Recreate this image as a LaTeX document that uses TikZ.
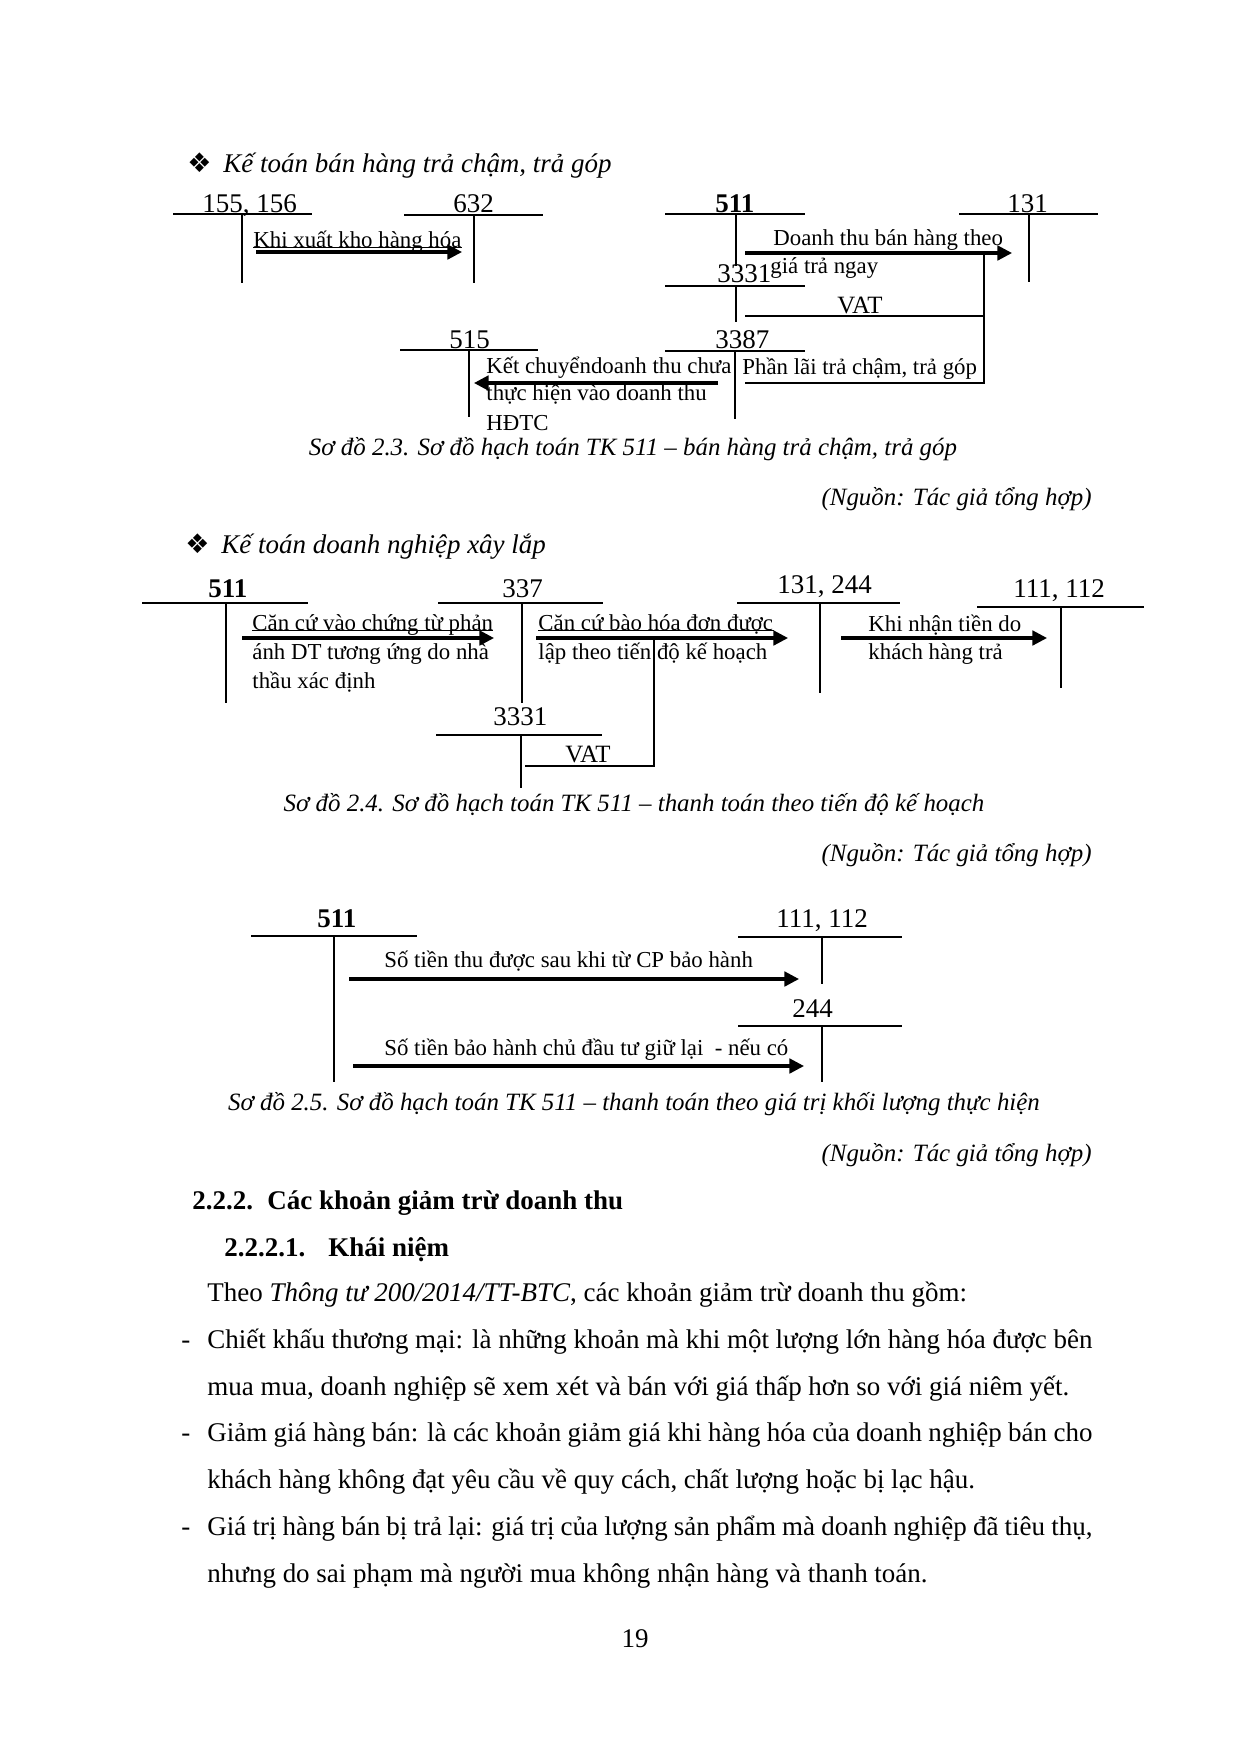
\documentclass[tikz,border=0pt]{standalone}
\usepackage{fontspec}
\setmainfont{Liberation Serif}
\newfontfamily\dejavu{DejaVu Sans}
\usepackage{tikz}
\usetikzlibrary{arrows.meta,positioning,calc}
\newlength{\linew}
\setlength{\linew}{5.9in}

\begin{document}
\begin{tikzpicture}[x={(0.169333mm,0)}, y={(0,-0.169333mm)},
    tline/.style={line width=0.6pt},
    arr/.style={line width=1.5pt, -{Triangle[length=7pt,width=7pt]}},
    lbl/.style={inner sep=0pt, anchor=base west, font=\fontsize{13}{15}\selectfont},
    blbl/.style={lbl, font=\fontsize{13}{15}\selectfont\bfseries},
    txt/.style={inner sep=0pt, anchor=base west, font=\fontsize{11}{13}\selectfont},
    stxt/.style={txt, font=\fontsize{11}{13}\selectfont},
    captxt/.style={inner sep=0pt, anchor=base, font=\fontsize{12}{14}\selectfont\itshape},
    srctxt/.style={captxt, anchor=base east},
    body/.style={inner sep=0pt, anchor=base west, font=\fontsize{13}{15}\selectfont}]
  \fill[white] (0,0) rectangle (1240,1754);
  \useasboundingbox (0,0) rectangle (1240,1754);

  % --- headings
  \node[body] (h1d) at (187,172) {\dejavu ❖};
  \node[body, font=\fontsize{13}{15}\selectfont\itshape] (h1) at (223,172) {Kế toán bán hàng trả chậm, trả góp};
  \node[body] (h2d) at (185,553) {\dejavu ❖};
  \node[body, font=\fontsize{13}{15}\selectfont\itshape] (h2) at (221,553) {Kế toán doanh nghiệp xây lắp};

  % --- T accounts: left/right/top of bar, x of stem, bottom of stem
  \foreach \l/\r/\t/\s/\b in {173/312/214/242/283, 404/543/215/474/283,
      665/805/214/736/266, 959/1098/214/1029/282, 665/805/286/736/322,
      665/805/351/735/419, 400/538/350/469/417,
      142/308/603/226/703, 438/603/603/522/703, 436/602/735/521/788,
      737/900/603/820/693, 977/1144/607/1061/688,
      251/417/936/334/1082, 738/902/937/822/984, 738/902/1026/822/1082}{
    \draw[tline] (\l,\t) -- (\r,\t);
    \draw[tline] (\s,\t) -- (\s,\b);}

  % --- So do 2.3
  \node[lbl] (t155) at (202,212) {155, 156};
  \node[lbl] (t632) at (453,212) {632};
  \node[blbl] (t511) at (715,212) {511};
  \node[lbl] (t131) at (1007,212) {131};
  \node[lbl] (t3331) at (717,282) {3331};
  \node[lbl] (t3387) at (715,348) {3387};
  \node[lbl] (t515) at (449,348) {515};

  \node[txt] (xuat) at (253,247) {Khi xuất kho hàng hóa};
  \draw[tline] ([yshift=-0.3pt]xuat.base west) -- ([yshift=-0.3pt]xuat.base east);
  \coordinate (a1s) at (256,252);
  \coordinate (a1e) at (462,252);
  \draw[arr] (a1s) -- (a1e);

  \node[txt] (dt1) at (773,245) {Doanh thu bán hàng theo};
  \node[stxt] (dt2) at (770,273) {giá trả ngay};
  \coordinate (a2s) at (745,253);
  \coordinate (a2e) at (1012,253);
  \draw[arr] (a2s) -- (a2e);

  \coordinate (vr) at (984,253);
  \coordinate (vatA) at (745,316);
  \coordinate (laiA) at (745,383);
  \node[txt, anchor=base, font=\fontsize{12}{14}\selectfont] (vat1) at (860,313) {VAT};
  \node[txt] (lai) at (742,374) {Phần lãi trả chậm, trả góp};
  \draw[tline] (vr) |- (laiA);
  \draw[tline] (vatA) -- (vatA -| vr);

  \node[txt] (kc1) at (486,373) {Kết chuyểndoanh thu chưa};
  \node[txt] (kc2) at (486,400) {thực hiện vào doanh thu};
  \node[txt] (kc3) at (486,430) {HĐTC};
  \coordinate (a3s) at (718,383);
  \coordinate (a3e) at (474,383);
  \draw[arr] (a3s) -- (a3e);

  \node[captxt] (cap1) at (633,455) {Sơ đồ 2.3. Sơ đồ hạch toán TK 511 -- bán hàng trả chậm, trả góp};
  \node[srctxt] (src1) at (1092,505) {(Nguồn: Tác giả tổng hợp)};

  % --- So do 2.4
  \node[blbl] (u511) at (208,597) {511};
  \node[lbl] (u337) at (502,597) {337};
  \node[lbl] (u3331) at (493,725) {3331};
  \node[lbl] (u131) at (777,593) {131, 244};
  \node[lbl] (u111) at (1013,597) {111, 112};

  \node[txt] (cc1) at (252,630) {Căn cứ vào chứng từ phản};
  \node[txt] (cc2) at (252,659) {ánh DT tương ứng do nhà};
  \node[txt] (cc3) at (252,688) {thầu xác định};
  \draw[tline] ([yshift=-0.3pt]cc1.base west) -- ([yshift=-0.3pt]cc1.base east);
  \coordinate (b1s) at (242,638);
  \coordinate (b1e) at (494,638);
  \draw[arr] (b1s) -- (b1e);

  \node[txt] (hd1) at (538,630) {Căn cứ bào hóa đơn được};
  \node[txt] (hd2) at (538,659) {lập theo tiến độ kế hoạch};
  \draw[tline] ([yshift=-0.3pt]hd1.base west) -- ([yshift=-0.3pt]hd1.base east);
  \coordinate (b2s) at (536,638);
  \coordinate (b2e) at (788,638);
  \draw[arr] (b2s) -- (b2e);

  \coordinate (vb) at (654,640);
  \coordinate (vatB) at (525,766);
  \node[txt, font=\fontsize{12}{14}\selectfont] (vat2) at (565,762) {VAT};
  \draw[tline] (vb) |- (vatB);

  \node[txt] (kn1) at (868,631) {Khi nhận tiền do};
  \node[txt] (kn2) at (868,659) {khách hàng trả};
  \coordinate (b3s) at (841,638);
  \coordinate (b3e) at (1047,638);
  \draw[arr] (b3s) -- (b3e);

  \node[captxt] (cap2) at (634,811) {Sơ đồ 2.4. Sơ đồ hạch toán TK 511 -- thanh toán theo tiến độ kế hoạch};
  \node[srctxt] (src2) at (1092,861) {(Nguồn: Tác giả tổng hợp)};

  % --- So do 2.5
  \node[blbl] (v511) at (317,927) {511};
  \node[lbl] (v111) at (776,927) {111, 112};
  \node[lbl] (v244) at (792,1017) {244};
  \node[txt] (st1) at (384,967) {Số tiền thu được sau khi từ CP bảo hành};
  \node[txt] (st2) at (384,1055) {Số tiền bảo hành chủ đầu tư giữ lại \ - nếu có};
  \coordinate (c1s) at (349,979);
  \coordinate (c1e) at (799,979);
  \coordinate (c2s) at (353,1066);
  \coordinate (c2e) at (804,1066);
  \draw[arr] (c1s) -- (c1e);
  \draw[arr] (c2s) -- (c2e);

  \node[captxt] (cap3) at (634,1110) {Sơ đồ 2.5. Sơ đồ hạch toán TK 511 -- thanh toán theo giá trị khối lượng thực hiện};
  \node[srctxt] (src3) at (1092,1161) {(Nguồn: Tác giả tổng hợp)};

  % --- text of the page
  \node[body, font=\fontsize{13}{15}\selectfont\bfseries] (s1n) at (192,1209) {2.2.2.};
  \node[body, font=\fontsize{13}{15}\selectfont\bfseries] (s1) at (267,1209) {Các khoản giảm trừ doanh thu};
  \node[body, font=\fontsize{13}{15}\selectfont\bfseries] (s2n) at (224,1256) {2.2.2.1.};
  \node[body, font=\fontsize{13}{15}\selectfont\bfseries] (s2) at (328,1256) {Khái niệm};
  \node[body] (p0) at (207,1301) {Theo \textit{Thông tư 200/2014/TT-BTC}, các khoản giảm trừ doanh thu gồm:};
  \foreach \yy in {1348,1441,1535}
    \node[body] at (181,\yy) {-};
  \node[body] (p1a) at (207,1348) {\makebox[\linew][s]{Chiết khấu thương mại: là những khoản mà khi một lượng lớn hàng hóa được bên}};
  \node[body] (p1b) at (207,1395) {mua mua, doanh nghiệp sẽ xem xét và bán với giá thấp hơn so với giá niêm yết.};
  \node[body] (p2a) at (207,1441) {\makebox[\linew][s]{Giảm giá hàng bán: là các khoản giảm giá khi hàng hóa của doanh nghiệp bán cho}};
  \node[body] (p2b) at (207,1488) {khách hàng không đạt yêu cầu về quy cách, chất lượng hoặc bị lạc hậu.};
  \node[body] (p3a) at (207,1535) {\makebox[\linew][s]{Giá trị hàng bán bị trả lại: giá trị của lượng sản phẩm mà doanh nghiệp đã tiêu thụ,}};
  \node[body] (p3b) at (207,1582) {nhưng do sai phạm mà người mua không nhận hàng và thanh toán.};
  \node[body, anchor=base] (pg) at (635,1647) {19};
\end{tikzpicture}
\end{document}
